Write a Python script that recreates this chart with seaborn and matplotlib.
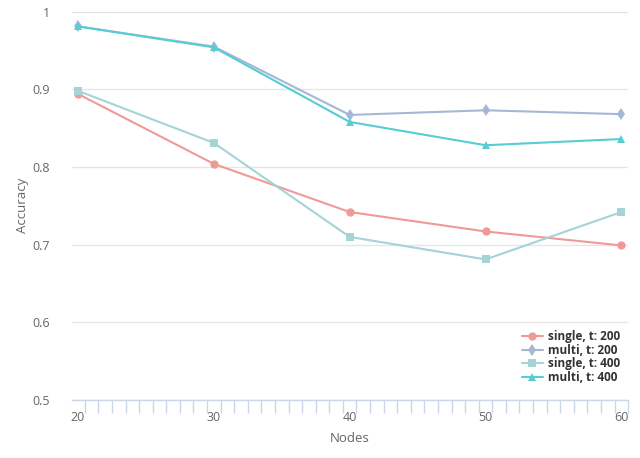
import numpy as np
import pandas as pd
import seaborn as sns
import matplotlib.pyplot as plt

nodes = [20, 30, 40, 50, 60]
single_200 = [0.894, 0.804, 0.742, 0.717, 0.699]
multi_200 = [0.981, 0.955, 0.867, 0.873, 0.868]
single_400 = [0.898, 0.831, 0.710, 0.681, 0.742]
multi_400 = [0.981, 0.954, 0.858, 0.828, 0.836]

labels = ["single, t: 200", "multi, t: 200", "single, t: 400", "multi, t: 400"]
colors = ["#f09a97", "#a6b7d6", "#a5d3d6", "#55cdd3"]
markers = ["o", "d", "s", "^"]

rows = []
for lab, vals in zip(labels, [single_200, multi_200, single_400, multi_400]):
    for n, v in zip(nodes, vals):
        rows.append({"Nodes": n, "Accuracy": v, "series": lab})
df = pd.DataFrame(rows)

sns.set_theme(style="white")
plt.rcParams["font.family"] = ["Open Sans", "DejaVu Sans"]

fig = plt.figure(figsize=(6.4, 4.58), dpi=100)
ax = fig.add_axes([0.1125, 0.1266, 0.869, 0.848])

sns.lineplot(data=df, x="Nodes", y="Accuracy", hue="series", style="series",
             hue_order=labels, style_order=labels, palette=colors,
             markers=dict(zip(labels, markers)), dashes=False,
             markersize=6, linewidth=1.5, markeredgewidth=0, ax=ax)

ax.set_xlim(19.56, 60.44)
ax.set_ylim(0.5, 1.0)
ax.set_yticks([0.5, 0.6, 0.7, 0.8, 0.9, 1.0])
ax.set_yticklabels(["0.5", "0.6", "0.7", "0.8", "0.9", "1"])
ax.yaxis.grid(True, color="#e6e6e6", linewidth=1)
ax.set_axisbelow(True)
for s in ["top", "right", "left"]:
    ax.spines[s].set_visible(False)
ax.spines["bottom"].set_color("#ccd6eb")
ax.spines["bottom"].set_linewidth(1)

ax.set_xticks(nodes)
ax.set_xticklabels([str(n) for n in nodes])
ax.set_xticks(np.arange(20.5, 61, 1.0), minor=True)
ax.tick_params(axis="x", which="major", bottom=False, length=0, pad=8, labelsize=9,
               colors="#666666")
ax.tick_params(axis="x", which="minor", bottom=True, length=9, width=1, color="#ccd6eb",
               direction="out")
ax.tick_params(axis="y", left=False, length=0, pad=16, labelsize=9, colors="#666666")

ax.set_xlabel("Nodes", fontsize=9.5, color="#666666", labelpad=6)
ax.set_ylabel("Accuracy", fontsize=9.5, color="#666666")
ax.yaxis.set_label_coords(-0.078, 0.5)

leg = ax.legend(loc="lower right", bbox_to_anchor=(1.0, 0.02), frameon=False,
                fontsize=8.5, handlelength=1.8, handletextpad=0.4,
                labelspacing=0.05, borderpad=0.2)
for t in leg.get_texts():
    t.set_fontweight("bold")
    t.set_color("#333333")

fig.savefig("out.png", dpi=100)
